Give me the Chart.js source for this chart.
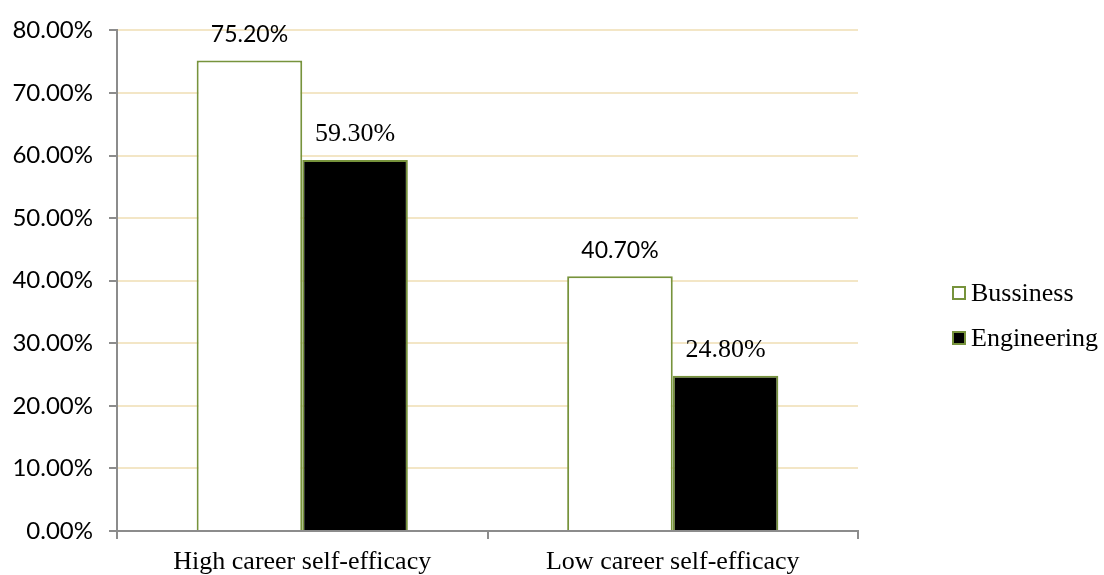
<!DOCTYPE html>
<html>
<head>
<meta charset="utf-8">
<script src="https://cdn.jsdelivr.net/npm/chart.js@4.4.1/dist/chart.umd.min.js"></script>
<style>
  html, body { margin: 0; padding: 0; background: #fff; }
  #wrap { width: 1104px; height: 575px; }
</style>
</head>
<body>
<div id="wrap"><canvas id="chart" width="1104" height="575"></canvas></div>
<script>
const categories = ['High career self-efficacy', 'Low career self-efficacy'];
const seriesNames = ['Bussiness', 'Engineering'];
const bussinessValues = [75.2, 40.7];
const engineeringValues = [59.3, 24.8];
const yTicks = [0, 10, 20, 30, 40, 50, 60, 70, 80];

const green = '#77933C';
const sansFont = 'Lato, "Open Sans", sans-serif';
const serifFont = '"Liberation Serif", "DejaVu Serif", serif';

// value labels above each bar
const valueLabels = {
    id: 'valueLabels',
    afterDatasetsDraw(chart) {
        const ctx = chart.ctx;
        ctx.save();
        ctx.fillStyle = '#000';
        ctx.textAlign = 'center';
        ctx.textBaseline = 'middle';
        chart.data.datasets.forEach((ds, i) => {
            ctx.font = i === 0 ? '23px ' + sansFont : '26px ' + serifFont;
            chart.getDatasetMeta(i).data.forEach((bar, j) => {
                ctx.fillText(ds.data[j].toFixed(2) + '%', bar.x, bar.y - 26);
            });
        });
        ctx.restore();
    }
};

// legend on the right side
const sideLegend = {
    id: 'sideLegend',
    afterDraw(chart) {
        const ctx = chart.ctx;
        ctx.save();
        ctx.font = '26px ' + serifFont;
        ctx.textBaseline = 'middle';
        chart.data.datasets.forEach((ds, i) => {
            const y = 293 + i * 45;
            ctx.fillStyle = ds.backgroundColor;
            ctx.fillRect(953, y - 6, 12, 12);
            ctx.strokeStyle = green;
            ctx.lineWidth = 2;
            ctx.strokeRect(953, y - 6, 12, 12);
            ctx.fillStyle = '#000';
            ctx.fillText(ds.label, 971, y + 1);
        });
        ctx.restore();
    }
};

new Chart(document.getElementById('chart'), {
    type: 'bar',
    data: {
        labels: categories,
        datasets: [
            {
                label: seriesNames[0],
                data: bussinessValues,
                backgroundColor: '#ffffff',
                borderColor: green,
                borderWidth: 2
            },
            {
                label: seriesNames[1],
                data: engineeringValues,
                backgroundColor: '#000000',
                borderColor: green,
                borderWidth: 2
            }
        ]
    },
    options: {
        responsive: false,
        devicePixelRatio: 1,
        animation: false,
        layout: { padding: { top: 28, right: 246, left: 0, bottom: 0 } },
        datasets: { bar: { barPercentage: 1, categoryPercentage: 0.57 } },
        plugins: {
            legend: { display: false },
            tooltip: { enabled: false }
        },
        scales: {
            x: {
                afterFit(scale) { scale.height = 44; },
                border: { color: '#8c8c8c', width: 2 },
                grid: {
                    offset: true,
                    drawOnChartArea: false,
                    tickLength: 8,
                    color: '#8c8c8c',
                    lineWidth: 2
                },
                ticks: {
                    color: '#000',
                    padding: 8,
                    font: { family: serifFont, size: 26 }
                }
            },
            y: {
                min: 0,
                max: 80,
                afterFit(scale) { scale.width = 117; },
                afterBuildTicks(scale) { scale.ticks = yTicks.map(v => ({ value: v })); },
                border: { color: '#8c8c8c', width: 2 },
                grid: {
                    color: '#F3E6C6',
                    lineWidth: 2,
                    tickLength: 8,
                    tickColor: '#8c8c8c'
                },
                ticks: {
                    color: '#000',
                    padding: 16,
                    font: { family: sansFont, size: 24 },
                    callback: v => v.toFixed(2) + '%'
                }
            }
        }
    },
    plugins: [valueLabels, sideLegend]
});
</script>
</body>
</html>
